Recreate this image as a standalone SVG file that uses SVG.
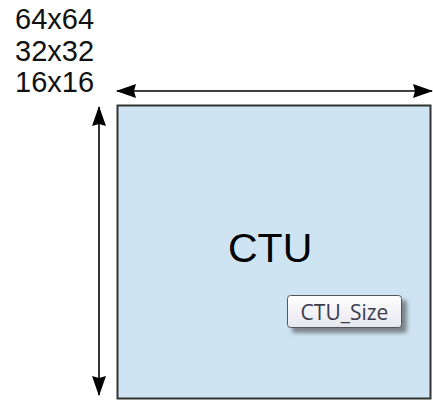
<svg xmlns="http://www.w3.org/2000/svg" width="433" height="402" viewBox="0 0 433 402">
  <defs>
    <marker id="head" viewBox="0 0 20 16" refX="19" refY="8" markerWidth="20" markerHeight="16" markerUnits="userSpaceOnUse" orient="auto-start-reverse">
      <path d="M0,1 L20,8 L0,15 L2,8 Z" fill="#000"/>
    </marker>
    <linearGradient id="btn" x1="0" y1="0" x2="0" y2="1">
      <stop offset="0" stop-color="#ffffff"/>
      <stop offset="1" stop-color="#e6e6ef"/>
    </linearGradient>
    <filter id="shadow" x="-20%" y="-30%" width="150%" height="180%">
      <feGaussianBlur stdDeviation="2"/>
    </filter>
    <style>
      .size { font-family: "Liberation Sans", Arial, sans-serif; font-size: 29px; fill: #111; }
      .title { font-family: "Liberation Sans", Arial, sans-serif; font-size: 41px; fill: #000; }
      .tip { font-family: "Open Sans", "DejaVu Sans", sans-serif; font-size: 21px; fill: #3a3a4a; }
      .dim { stroke: #000; stroke-width: 1.6; fill: none; marker-start: url(#head); marker-end: url(#head); }
    </style>
  </defs>

  <!-- block sizes -->
  <g id="sizes">
    <text class="size" x="15" y="29">64x64</text>
    <text class="size" x="15" y="61">32x32</text>
    <text class="size" x="15" y="92">16x16</text>
  </g>

  <!-- coding tree unit -->
  <g id="ctu">
    <rect x="117.5" y="105.5" width="313" height="293" fill="#cfe4f3" stroke="#333" stroke-width="2"/>
    <text class="title" x="228" y="262">CTU</text>
  </g>

  <!-- size label -->
  <g id="ctu-size">
    <rect x="292" y="300" width="115" height="33" rx="3" fill="#444" opacity="0.6" filter="url(#shadow)"/>
    <rect x="287.5" y="295.5" width="114" height="32" rx="3" fill="url(#btn)" stroke="#555" stroke-width="1"/>
    <text class="tip" x="344.5" y="320" text-anchor="middle">CTU_Size</text>
  </g>

  <!-- dimension arrows -->
  <g id="connectors">
    <line class="dim" x1="117" y1="91" x2="432" y2="91"/>
    <line class="dim" x1="99" y1="107" x2="99" y2="395"/>
  </g>
</svg>
